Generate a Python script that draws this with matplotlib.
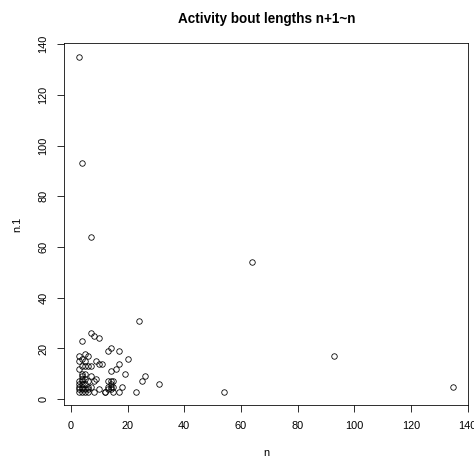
import matplotlib.pyplot as plt

plt.rcParams['font.family'] = ['Liberation Sans', 'DejaVu Sans']

# bout length n (x) against the next bout length n+1 (y)
n = [3, 4, 7, 64, 93, 135, 54, 24, 31, 25, 26, 23, 20, 19, 18, 17, 17, 17, 16, 14,
     14, 13, 12, 10, 8, 7, 4, 5, 6, 3, 3, 3, 9, 5, 10, 11, 5, 6, 7, 4,
     4, 4, 4, 4, 4, 4, 4, 3, 3, 3, 3, 5, 5, 5, 6, 6, 7, 7, 8, 9,
     13, 13, 14, 14, 15, 15, 14, 13, 10, 8, 12, 6, 5, 4, 3, 5, 6, 4, 15, 14]
n1 = [135, 93, 64, 54, 17, 5, 3, 31, 6, 7, 9, 3, 16, 10, 5, 19, 14, 3, 12, 20,
      11, 19, 3, 24, 25, 26, 23, 18, 17, 17, 15, 12, 15, 15, 14, 14, 13, 13, 13, 10,
      9, 8, 7, 6, 5, 4, 3, 3, 4, 5, 6, 3, 4, 6, 4, 5, 5, 9, 7, 8,
      7, 5, 7, 4, 5, 3, 6, 4, 4, 3, 3, 3, 8, 13, 7, 10, 7, 16, 7, 5]

fig = plt.figure(figsize=(474 / 72, 461 / 72), dpi=72)
ax = fig.add_axes([0.136, 0.1215, 0.852, 0.7845])
ax.plot(n, n1, 'o', mfc='none', mec='black', ms=5.5, mew=0.8)

# R-style 4% padding around the data range
lo = min(n + n1)
hi = max(n + n1)
pad = (hi - lo) * 0.04
ax.set_xlim(lo - pad, hi + pad)
ax.set_ylim(lo - pad, hi + pad)
ax.set_xticks(range(0, 141, 20))
ax.set_yticks(range(0, 141, 20))
ax.tick_params(direction='out', length=7, width=0.8, labelsize=11, pad=9)
for lab in ax.get_yticklabels():
    lab.set_rotation(90)
    lab.set_va('center')
for sp in ax.spines.values():
    sp.set_linewidth(0.8)

ax.set_xlabel('n', fontsize=11, labelpad=17)
ax.set_ylabel('n.1', fontsize=11, labelpad=16)
ax.set_title('Activity bout lengths n+1~n', fontsize=13.5, fontweight='bold', pad=20)

plt.savefig('out.png', dpi=72)
